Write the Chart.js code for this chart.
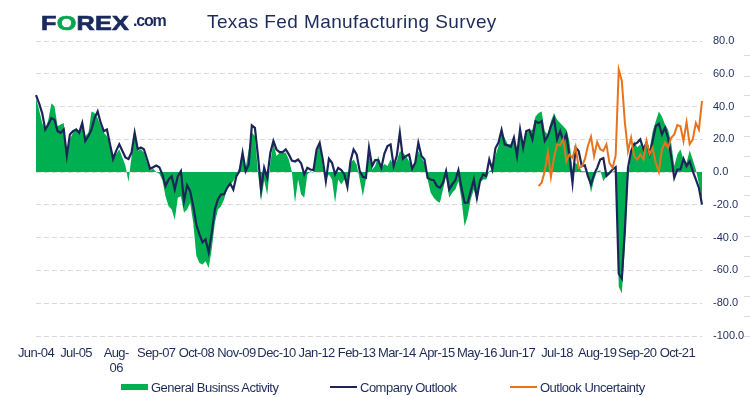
<!DOCTYPE html>
<html><head><meta charset="utf-8">
<script src="https://cdn.jsdelivr.net/npm/chart.js@4.4.0/dist/chart.umd.min.js"></script>
<style>
html,body{margin:0;padding:0;background:#fff;}
#wrap{position:relative;width:750px;height:397px;overflow:hidden;background:#fff;}
canvas{position:absolute;left:0;top:0;}
.lib{font-family:'Liberation Sans',Arial,sans-serif;}
.logo{position:absolute;left:41px;top:12px;font-weight:bold;font-size:21px;line-height:1;color:#1b2a5e;letter-spacing:0.2px;transform:scaleX(1.2);transform-origin:0 0;white-space:nowrap;-webkit-text-stroke:0.7px #1b2a5e;}
.logo .g{color:#00a651;-webkit-text-stroke:0.7px #00a651;}
.com{position:absolute;left:133px;top:13px;font-weight:bold;font-size:16px;line-height:1;color:#1b2a5e;letter-spacing:-1.2px;white-space:nowrap;}
.title{position:absolute;left:207px;top:12px;font-size:19px;line-height:1;color:#1d2b5b;letter-spacing:0.4px;white-space:nowrap;}
.li{position:absolute;top:379px;height:16px;display:flex;align-items:center;font-size:13px;color:#1d2b5b;letter-spacing:-0.5px;white-space:nowrap;}
.sw{display:inline-block;margin-right:3px;}
.sw.box{width:27px;height:6px;}
.sw.line{width:27px;height:2.5px;}
</style></head>
<body><div id="wrap">
<canvas id="c" width="750" height="397"></canvas>
<div class="logo lib">F<span class="g">O</span>REX</div>
<div class="com lib">.com</div>
<div class="title lib">Texas Fed Manufacturing Survey</div>
<div id="legend"></div>
</div>
<script>
// ---- data (monthly, Jun-2004 .. Jun-2022) ----
const startYear = 2004, startMonth = 5; // June 2004
const monthNames = ['Jan','Feb','Mar','Apr','May','Jun','Jul','Aug','Sep','Oct','Nov','Dec'];
const categories = [];
for (let k = 0; k < 217; k++) {
  const m = (startMonth + k) % 12, y = startYear + Math.floor((startMonth + k) / 12);
  categories.push(monthNames[m] + '-' + String(y % 100).padStart(2, '0'));
}
const tickLabels = ['Jun-04','Jul-05',['Aug-','06'],'Sep-07','Oct-08','Nov-09','Dec-10','Jan-12','Feb-13','Mar-14','Apr-15','May-16','Jun-17','Jul-18','Aug-19','Sep-20','Oct-21'];

const generalBusinessActivity = [
 45,38,30,26,32,42,40,28,29,30,8,20,24,27,25,28,22,24,37,36,
 33,28,24,22,17,11,11,14,9,4,-6,10,22,13,14,12,6,1,2,0,
 -1,-5,-14.7,-20.8,-22.8,-29,-15.7,-14.7,-24.8,-22.8,-18.7,-31,-51,-55.4,-56.4,-54.4,-58.5,-47,-31,-22.8,
 -20.8,-16.7,-9.6,-7.5,-5.5,-1.4,2.6,13.8,2.6,13.8,24,22,-0.4,-17.7,-5,-14,5.7,18,9.8,11.8,
 11.8,11.8,7.7,0,-18.7,-4.5,-13.6,-15.7,-1.4,0.6,-0.4,11.8,17.9,3.7,-4.5,-1.4,-4.5,-18.7,-4.5,-7.5,
 -4.5,-7.5,5.7,7.7,4.7,-4.5,-14.7,-4.5,11.8,1.6,3.7,9.8,2.6,5,3.7,7.7,3.7,6.7,12.8,11.8,
 9.8,6.7,2.6,6.7,12.8,8.8,5.7,-4.5,-12.6,-15.7,-17.7,-18.7,-10.6,-2.4,-15.7,-12.6,-10.6,-5.5,-16.7,-33,
 -26.9,-16.7,-10.6,-17.7,-6.5,-4.5,-4.5,0.6,1.6,10,16,24,21,17,17,19,15,24,18,24,
 25,26,34,36,37,25,23,31,36,32,30,28,26,19,1.6,5.7,3.7,0.6,0.6,-1.4,
 -12.6,-4.5,0.6,1.2,-5.5,-2.4,-0.4,0,1.2,-70,-74,-45,-5,14,19,15,17,12,19,14,
 25,31,37,34,29,26,18,3.7,10.8,14,7.7,5.7,13.4,7.7,1.6,-7,-17.7
];
const companyOutlook = [
 47,42,36,26,29,33,32,25,24,26,10,23,25,26,24,30,19,22,26,33,
 37,30,25,26,17,8,13,17,13,9,8,12,24,14,15,14,8,2,3,4,
 3,-1.5,-8.5,-4.5,-2.5,-10.6,-2.5,0.6,-17.7,-8,-11.6,-20.8,-32,-38,-42.8,-41,-48.9,-37,-22.8,-16.7,
 -13.6,-13.6,-9.6,-7,-10.6,-2.4,0.6,11.8,0.6,4.7,28.5,27,9.8,-10.6,2.6,-3.5,11.8,19,13.8,12.2,
 12.2,13.8,10.8,7,6.5,7.7,5.3,-1.4,2.6,1.6,1.2,13.8,17.9,7.7,-5.5,8.1,5.7,-1.4,2.6,1.2,
 -1.4,-9,6.7,13.8,10.8,0.6,-2.9,-3.5,14.9,3.7,7.3,7.3,2.6,11.3,15.9,16.9,3.7,9.8,24,8.1,
 9.8,10.8,2,5.7,17.9,9.8,7.7,-3.5,-4.5,-4.9,-8.5,-9.6,-6.5,0.6,-10.6,-7.5,-4.9,1.2,-9.6,-18.7,
 -18.7,-11.6,-4.5,-15.7,-5.5,-1.4,-2.4,7.7,1.6,14.5,18,25.7,16.9,16.3,15.5,21,9.8,26,14.9,25,
 25.7,20,31,30,31,19,22,28,32.6,20,25,19,23,9.8,-6.5,14.9,12.8,3.7,4.1,-2.4,
 -7.5,-1.4,2.6,7.7,8.5,-2.4,-0.5,1.6,3,-62,-65,-35,2.6,12.8,17,18,20,13.8,18,10.8,
 19,28,29.5,23,27,21,9.8,-3.5,1.6,1.6,8.1,3.7,6.7,0.6,-4.5,-9.6,-19.8
];
const uncertaintyStart = 'Jan-18';
const outlookUncertainty = [
 -8.6,-6.5,0.6,12.2,-2.9,8.8,16.9,16.3,20,6.7,10.8,8.8,15.5,2.6,3.3,7.7,15.9,21.6,9.8,18.3,
 14,13,17,5.5,2.6,10,62.5,55.6,30,12.8,21,9.8,7.7,10.8,7.7,19,10.8,14.9,5.7,0,
 13.8,18,14.9,21,23,28.7,28,19,30.5,17,20,30,26,43.4
];

const NAVY = '#1b2557', GREEN = '#00b050', ORANGE = '#e8731e', TEXT = '#1d2b5b';
const LIB = "'Liberation Sans',Arial,sans-serif";
const u0 = categories.indexOf(uncertaintyStart);

// tighter letter spacing for the category labels (the original uses a condensed face)
const condensedXLabels = {
  id: 'condensedXLabels',
  afterLayout(chart) {
    const sx = chart.scales.x;
    if (sx && !sx._condensed) {
      const orig = sx.drawLabels.bind(sx);
      sx.drawLabels = function (area) {
        const c = this.ctx, prev = c.letterSpacing;
        c.letterSpacing = '-0.6px';
        orig(area);
        c.letterSpacing = prev || '0px';
      };
      sx._condensed = true;
    }
  }
};

const chart = new Chart(document.getElementById('c'), {
  type: 'line',
  data: {
    labels: categories,
    datasets: [
      { label: 'General Businss Activity', data: generalBusinessActivity, fill: 'origin',
        backgroundColor: GREEN, borderColor: GREEN, borderWidth: 0, pointRadius: 0, tension: 0, order: 3 },
      { label: 'Company Outlook', data: companyOutlook, fill: false,
        borderColor: NAVY, backgroundColor: NAVY, borderWidth: 2.2, pointRadius: 0, tension: 0, order: 2 },
      { label: 'Outlook Uncertainty', data: outlookUncertainty.map((v, k) => ({ x: categories[u0 + k], y: v })), fill: false,
        borderColor: ORANGE, backgroundColor: ORANGE, borderWidth: 2, pointRadius: 0, tension: 0, order: 1 }
    ]
  },
  plugins: [condensedXLabels],
  options: {
    responsive: false, animation: false, devicePixelRatio: 1,
    layout: { padding: { left: 36, top: 41, right: 0, bottom: 21 } },
    plugins: { legend: { display: false }, tooltip: { enabled: false }, title: { display: false } },
    scales: {
      x: {
        type: 'category', offset: false,
        grid: { display: false, drawTicks: false }, border: { display: false },
        ticks: { autoSkip: false, maxRotation: 0, minRotation: 0, padding: 10, color: TEXT,
          font: { family: LIB, size: 13, lineHeight: 1.15 },
          callback: (v, i) => (i % 13 === 0 ? tickLabels[i / 13] : '') },
        afterFit: s => { s.height = 40; }
      },
      y: {
        position: 'right', min: -100, max: 80,
        ticks: { stepSize: 20, padding: 11, color: TEXT, font: { family: LIB, size: 11 },
          callback: v => Number(v).toFixed(1) },
        grid: { color: '#d9d9d9', lineWidth: 1, drawTicks: false },
        border: { display: false, dash: [5, 3] },
        afterFit: s => { s.width = 42; }
      },
      y2: {
        position: 'right', min: 0, max: 14.75,
        ticks: { display: false, stepSize: 1, includeBounds: false },
        grid: { drawOnChartArea: false, drawTicks: true, tickLength: 6, tickColor: '#d9d9d9' },
        border: { display: false },
        afterFit: s => { s.width = 6; }
      }
    }
  }
});

// legend built from the chart's datasets
const legendLeft = [121, 330, 510];
const legendEl = document.getElementById('legend');
chart.data.datasets.forEach((ds, k) => {
  const item = document.createElement('div');
  item.className = 'li lib';
  item.style.left = legendLeft[k] + 'px';
  const sw = document.createElement('span');
  sw.className = 'sw ' + (ds.fill ? 'box' : 'line');
  sw.style.background = ds.fill ? ds.backgroundColor : ds.borderColor;
  const tx = document.createElement('span');
  tx.textContent = ds.label;
  item.append(sw, tx);
  legendEl.append(item);
});
</script>
</body></html>
